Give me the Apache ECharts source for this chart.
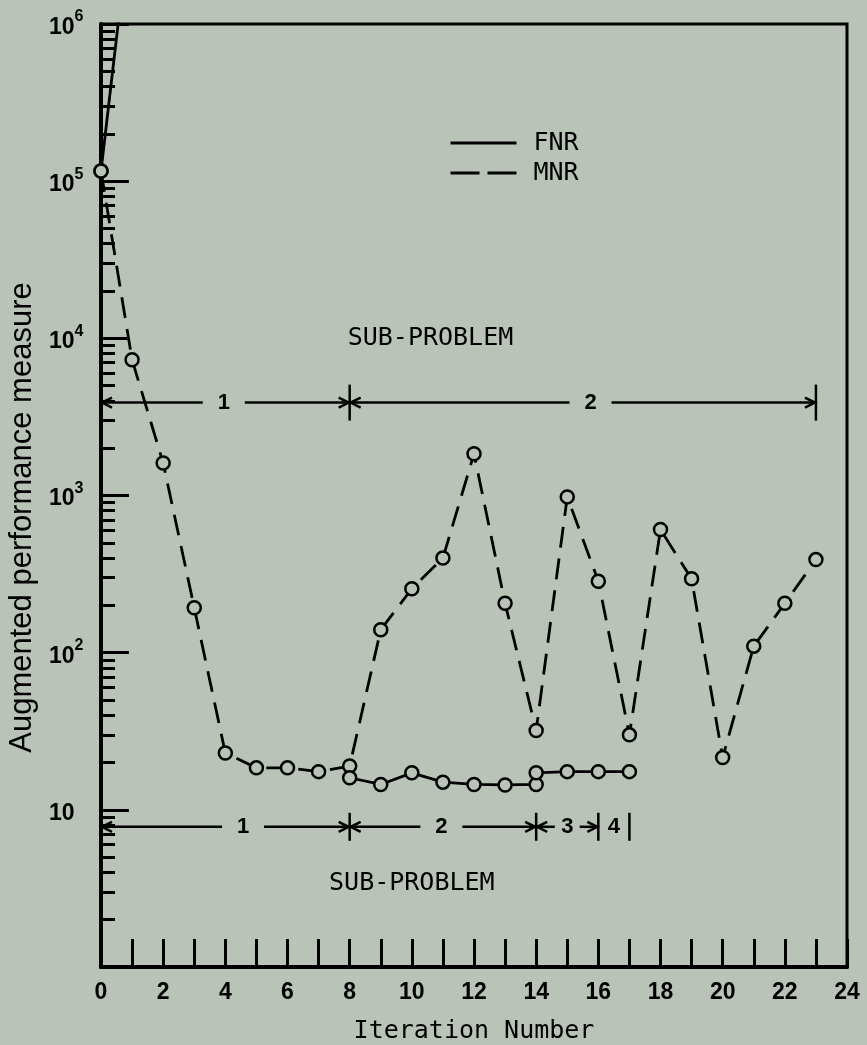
<!DOCTYPE html>
<html>
<head>
<meta charset="utf-8">
<script src="https://cdn.jsdelivr.net/npm/echarts@6/dist/echarts.min.js"></script>
<style>
html,body{margin:0;padding:0;background:#b9c3b8;}
#chart{width:867px;height:1045px;}
</style>
</head>
<body>
<div id="chart"></div>
<script>
// ---- data ----
const iterations = [0,1,2,3,4,5,6,7,8,9,10,11,12,13,14,15,16,17,18,19,20,21,22,23];
const mnrValues  = [116000,7300,1610,193,23,18.5,18.5,17.5,19,140,255,400,1845,206,32,980,285,30,607,295,21.5,110,206,391];
// FNR diverges right after the start (leaves the chart above 10^6)
const fnrStartIter = [0,1];
const fnrStartValues = [116000,5800000];
const fnrIter   = [8,9,10,11,12,13,14,14,15,16,17];
const fnrValues = [16.0,14.5,17.2,15.0,14.5,14.4,14.5,17.2,17.5,17.5,17.5];
const xLabelValues = [0,2,4,6,8,10,12,14,16,18,20,22,24];
const yMajorValues = [1,10,100,1000,10000,100000,1000000];
const yMinorValues = [];
for (let d = 1; d < 1000000; d *= 10) for (let m = 2; m <= 9; m++) yMinorValues.push(m * d);
// sub-problem brackets
const upperBounds = [0,8,23];
const upperLevel = 3900;
const upperLabels = ['1','2'];
const upperLabelX = [3.95,15.75];
const lowerBounds = [0,8,14,16,17];
const lowerLevel = 7.8;
const lowerLabels = ['1','2','3','4'];
const lowerLabelX = [4.57,10.95,15.0,16.5];
const subProblemText = ['SUB-PROBLEM','SUB-PROBLEM'];
const subProblemPos = [[10.6,10000],[10.0,3.4]];

const BG = '#b9c3b8';
const MONO = '"DejaVu Sans Mono", "Liberation Mono", monospace';
const SANS = '"Liberation Sans", Arial, sans-serif';

function segData(bounds, level, labelX) {
  const out = [];
  for (let i = 0; i < bounds.length - 1; i++) out.push([bounds[i], bounds[i+1], level, labelX[i]]);
  return out;
}

function makeBracketRenderer(labels, barHalf) {
  return function (params, api) {
    const x0 = api.value(0), x1 = api.value(1), lv = api.value(2), lx = api.value(3);
    const p0 = api.coord([x0, lv]), p1 = api.coord([x1, lv]), pl = api.coord([lx, lv]);
    const y = p0[1];
    const len = p1[0] - p0[0];
    const gap = Math.min(21, len * 0.2);
    const style = { stroke: '#000', lineWidth: 2.5, fill: null };
    const ah = 11, aw = 5;
    const children = [];
    if (len > 45) {
      children.push({ type: 'line', shape: { x1: p0[0], y1: y, x2: pl[0] - gap, y2: y }, style: style });
      children.push({ type: 'polyline', shape: { points: [[p0[0] + ah, y - aw], [p0[0] + 1, y], [p0[0] + ah, y + aw]] }, style: style });
      children.push({ type: 'line', shape: { x1: pl[0] + gap, y1: y, x2: p1[0], y2: y }, style: style });
      children.push({ type: 'polyline', shape: { points: [[p1[0] - ah, y - aw], [p1[0] - 1, y], [p1[0] - ah, y + aw]] }, style: style });
    }
    children.push({ type: 'line', shape: { x1: p1[0], y1: y - barHalf, x2: p1[0], y2: y + barHalf }, style: style });
    children.push({ type: 'text', x: pl[0], y: y, style: { text: labels[params.dataIndex], font: 'bold 22px ' + SANS, align: 'center', verticalAlign: 'middle', fill: '#000' } });
    return { type: 'group', children: children };
  };
}

const symbolStyle = { color: BG, borderColor: '#000', borderWidth: 2.5 };
const lineCommon = {
  type: 'line', symbol: 'circle', symbolSize: 13, showAllSymbol: true,
  itemStyle: symbolStyle, emphasis: { disabled: true }, clip: true
};

const chart = echarts.init(document.getElementById('chart'), null, { renderer: 'canvas' });
chart.setOption({
  animation: false,
  backgroundColor: BG,
  grid: { left: 101, top: 24, width: 746, height: 943, show: true, borderColor: '#000', borderWidth: 3, backgroundColor: 'transparent', outerBoundsMode: 'none' },
  legend: {
    orient: 'vertical', left: 449, top: 130, padding: 0, itemWidth: 66, itemHeight: 14, itemGap: 4,
    data: ['FNR', 'MNR'],
    itemStyle: { color: 'transparent', borderWidth: 0, opacity: 0 },
    lineStyle: { width: 3, color: '#000' },
    textStyle: { fontFamily: MONO, fontSize: 25, lineHeight: 26, color: '#000', padding: [0, 0, 0, 12] }
  },
  xAxis: {
    type: 'value', min: 0, max: 24, interval: 1,
    axisLine: { onZero: false, lineStyle: { color: '#000', width: 4 } },
    axisTick: { inside: true, length: 28, lineStyle: { color: '#000', width: 3 } },
    axisLabel: { customValues: xLabelValues, color: '#000', fontFamily: SANS, fontWeight: 'bold', fontSize: 23, margin: 14 },
    splitLine: { show: false },
    name: 'Iteration Number', nameLocation: 'middle', nameGap: 52,
    nameTextStyle: { fontFamily: MONO, fontSize: 25, color: '#000' }
  },
  yAxis: [{
    type: 'log', logBase: 10, min: 1, max: 1000000,
    axisLine: { onZero: false, lineStyle: { color: '#000', width: 4 } },
    axisTick: { inside: true, length: 28, customValues: yMajorValues, lineStyle: { color: '#000', width: 3 } },
    axisLabel: {
      customValues: yMajorValues, align: 'left', margin: 52, color: '#000',
      formatter: function (v) {
        const e = Math.round(Math.log10(v));
        if (e === 0) return '';
        if (e === 1) return '{b|10}';
        return '{b|10}{s|' + e + '}';
      },
      rich: {
        b: { fontFamily: SANS, fontWeight: 'bold', fontSize: 23, color: '#000', lineHeight: 30, verticalAlign: 'bottom' },
        s: { fontFamily: SANS, fontWeight: 'bold', fontSize: 16, color: '#000', verticalAlign: 'top' }
      }
    },
    splitLine: { show: false },
    name: 'Augmented performance measure', nameLocation: 'middle', nameGap: 60, nameRotate: 90,
    nameTextStyle: { fontFamily: SANS, fontSize: 31, color: '#000', padding: [0, 44, 0, 0] }
  }, {
    type: 'log', logBase: 10, min: 1, max: 1000000, position: 'left', offset: 0,
    axisLine: { show: false },
    axisTick: { inside: true, length: 14, customValues: yMinorValues, lineStyle: { color: '#000', width: 3 } },
    axisLabel: { show: false },
    splitLine: { show: false }
  }],
  series: [
    { name: 'FNR', type: 'line', data: [], symbol: 'none', lineStyle: { color: '#000', width: 3, type: 'solid' } },
    { name: 'MNR', type: 'line', data: [], symbol: 'none', lineStyle: { color: '#000', width: 3, type: [29, 8] } },
    Object.assign({}, lineCommon, {
      name: 'MNR', z: 3,
      data: iterations.map((x, i) => [x, mnrValues[i]]),
      lineStyle: { color: '#000', width: 2.8, type: [21, 11] }
    }),
    Object.assign({}, lineCommon, {
      name: 'FNR', z: 4,
      data: fnrStartIter.map((x, i) => [x, fnrStartValues[i]]),
      lineStyle: { color: '#000', width: 2.8, type: 'solid' }
    }),
    Object.assign({}, lineCommon, {
      name: 'FNR', z: 4,
      data: fnrIter.map((x, i) => [x, fnrValues[i]]),
      lineStyle: { color: '#000', width: 2.8, type: 'solid' }
    }),
    {
      type: 'custom', name: 'upperBracket', silent: true, z: 5,
      data: segData(upperBounds, upperLevel, upperLabelX),
      renderItem: makeBracketRenderer(upperLabels, 18)
    },
    {
      type: 'custom', name: 'lowerBracket', silent: true, z: 5,
      data: segData(lowerBounds, lowerLevel, lowerLabelX),
      renderItem: makeBracketRenderer(lowerLabels, 14)
    },
    {
      type: 'custom', name: 'subProblemText', silent: true, z: 5,
      data: subProblemPos,
      renderItem: function (params, api) {
        const p = api.coord([api.value(0), api.value(1)]);
        return { type: 'text', x: p[0], y: p[1], style: { text: subProblemText[params.dataIndex], font: '25px ' + MONO, align: 'center', verticalAlign: 'middle', fill: '#000' } };
      }
    }
  ]
});
</script>
</body>
</html>
